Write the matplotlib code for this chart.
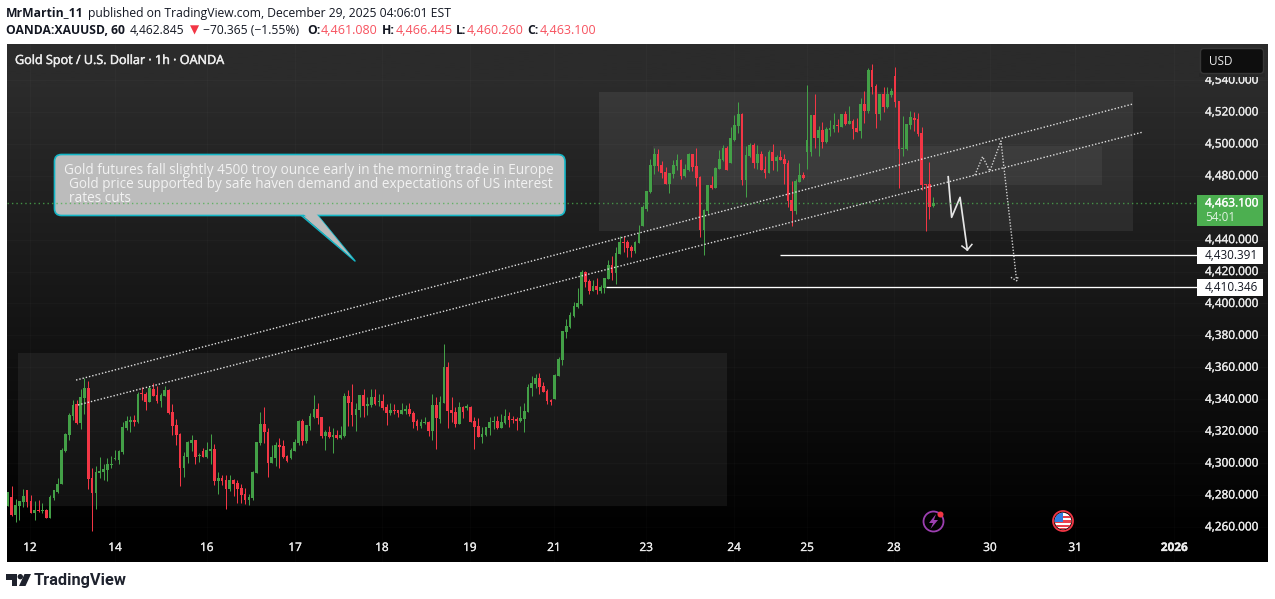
import numpy as np
import matplotlib
matplotlib.use("Agg")
import matplotlib.pyplot as plt
import matplotlib.patheffects as pe
from matplotlib.colors import LinearSegmentedColormap
from matplotlib.patches import Circle, FancyBboxPatch, Polygon, Rectangle
from matplotlib.transforms import Affine2D

opens = [
 4273.1,4278.7,4267.4,4273.1,4275.6,4283.1,4276.2,4268.7,4270.6,4269.7,
 4270.6,4265.6,4278.1,4281.6,4286.9,4307.5,4317.6,4329.5,4336.8,4325.1,
 4340.8,4347.0,4290.6,4281.2,4293.7,4294.4,4295.6,4298.8,4302.3,4301.9,
 4306.9,4322.0,4325.7,4327.0,4325.7,4343.9,4343.3,4338.2,4346.4,4342.6,
 4338.9,4342.0,4345.8,4332.0,4323.8,4318.2,4296.9,4303.8,4312.5,4314.4,
 4304.4,4307.5,4303.8,4307.5,4308.8,4288.7,4290.6,4289.4,4283.7,4289.4,
 4287.5,4284.3,4280.6,4276.8,4278.1,4293.7,4312.5,4324.5,4319.4,4300.0,
 4303.2,4311.3,4310.7,4304.4,4303.2,4307.5,4312.5,4326.3,4313.8,4323.2,
 4328.8,4333.9,4328.8,4316.9,4319.4,4316.3,4317.6,4315.7,4316.9,4342.0,
 4338.2,4330.1,4333.2,4342.6,4335.7,4336.4,4341.4,4338.2,4338.9,4335.1,
 4331.3,4333.2,4333.2,4330.7,4332.6,4333.9,4331.3,4326.3,4323.2,4325.1,
 4325.7,4320.1,4336.4,4327.6,4337.6,4360.2,4333.2,4332.0,4324.5,4335.1,
 4334.5,4335.1,4326.3,4323.2,4316.3,4317.6,4322.0,4325.7,4326.3,4322.0,
 4325.1,4329.5,4327.6,4327.6,4326.3,4327.6,4332.0,4347.0,4349.5,4353.3,
 4348.3,4345.1,4339.5,4340.1,4354.5,4364.6,4382.1,4385.2,4392.1,4397.8,
 4399.7,4419.7,4414.0,4407.8,4410.9,4407.8,4409.7,4415.3,4424.1,4419.1,
 4431.0,4438.5,4438.5,4435.4,4432.9,4437.9,4448.5,4459.2,4469.8,4486.1,
 4493.7,4486.8,4482.4,4474.9,4481.1,4486.1,4489.9,4479.9,4483.6,4493.7,
 4486.1,4479.2,4446.0,4457.9,4474.2,4472.3,4484.3,4489.9,4497.4,4488.0,
 4502.4,4511.2,4518.7,4477.3,4492.4,4499.3,4488.0,4493.6,4484.2,4481.7,
 4494.8,4489.2,4491.7,4490.5,4487.9,4464.8,4457.9,4476.0,4480.4,4494.8,
 4494.8,4518.0,4503.6,4508.6,4501.1,4508.6,4509.3,4511.8,4510.5,4518.7,
 4512.4,4514.3,4509.9,4508.0,4524.9,4520.5,4546.2,4536.2,4518.7,4531.2,
 4523.0,4530.6,4542.5,4526.8,4496.7,4496.7,4511.8,4516.2,4515.5,4506.8,
 4474.8,4474.8,4461.08]
highs = [
 4281.8,4285.6,4277.5,4276.2,4283.7,4283.1,4280.0,4276.2,4276.8,4275.0,
 4271.2,4280.0,4283.1,4290.6,4309.4,4318.6,4331.3,4339.5,4339.5,4346.4,
 4353.3,4351.4,4296.9,4298.1,4303.8,4299.4,4303.2,4304.4,4308.2,4308.2,
 4325.7,4329.5,4329.5,4330.1,4344.5,4347.6,4344.5,4348.3,4350.2,4348.3,
 4343.9,4348.3,4346.4,4337.0,4327.6,4318.8,4306.9,4313.8,4317.6,4314.4,
 4306.3,4309.4,4313.2,4318.2,4311.9,4294.4,4292.5,4292.5,4292.5,4290.0,
 4289.4,4286.9,4284.3,4280.6,4295.0,4313.2,4332.0,4335.1,4322.0,4311.3,
 4313.2,4315.7,4314.4,4305.0,4309.4,4315.1,4327.0,4327.6,4323.8,4331.3,
 4342.6,4337.6,4328.8,4320.7,4323.2,4322.0,4320.7,4323.2,4343.9,4345.8,
 4349.5,4337.6,4342.6,4346.4,4341.4,4346.4,4346.4,4343.3,4343.3,4337.0,
 4337.6,4337.0,4333.2,4337.6,4336.4,4337.6,4332.6,4327.6,4327.6,4328.8,
 4326.3,4343.3,4341.4,4342.0,4374.6,4363.3,4341.4,4335.1,4338.2,4335.7,
 4337.0,4335.7,4328.8,4328.2,4322.6,4322.6,4328.8,4329.5,4329.5,4330.7,
 4333.9,4332.0,4329.5,4328.8,4335.7,4337.6,4349.5,4354.5,4355.8,4356.4,
 4350.8,4346.4,4340.1,4355.8,4366.4,4382.7,4390.3,4394.6,4400.9,4409.7,
 4421.0,4420.3,4415.3,4414.7,4415.7,4411.6,4415.9,4427.2,4429.7,4435.4,
 4442.3,4442.3,4439.8,4436.6,4439.1,4449.2,4461.7,4470.5,4490.5,4497.4,
 4496.8,4489.3,4485.5,4481.8,4489.9,4493.7,4490.5,4487.4,4494.3,4493.7,
 4497.4,4479.9,4459.2,4474.2,4479.9,4485.5,4496.2,4499.3,4498.6,4510.5,
 4518.1,4526.2,4519.3,4498.6,4500.5,4500.5,4499.3,4495.5,4492.3,4496.1,
 4499.9,4493.0,4496.1,4493.6,4489.8,4476.7,4477.9,4487.9,4482.3,4536.8,
 4518.0,4531.2,4511.1,4513.6,4510.5,4514.9,4519.3,4515.5,4518.7,4520.5,
 4523.7,4515.5,4516.2,4528.7,4533.1,4547.5,4550.0,4537.5,4531.2,4535.6,
 4535.6,4534.9,4548.1,4526.8,4517.4,4512.4,4520.5,4519.9,4519.3,4510.5,
 4474.8,4488.6,4466.445]
lows = [
 4273.1,4266.8,4263.3,4264.3,4272.7,4272.7,4268.7,4264.3,4269.3,4268.5,
 4265.6,4265.6,4276.8,4281.2,4286.9,4306.9,4314.4,4327.0,4324.5,4321.3,
 4330.7,4283.7,4257.4,4271.2,4290.6,4289.4,4288.7,4296.9,4301.9,4299.4,
 4305.7,4320.7,4319.4,4323.2,4325.3,4339.5,4333.2,4338.2,4342.0,4337.6,
 4335.1,4342.0,4330.7,4317.6,4311.3,4285.6,4291.2,4300.0,4307.5,4299.4,
 4300.6,4303.8,4303.2,4299.4,4286.2,4280.6,4286.2,4271.2,4282.5,4279.3,
 4275.0,4275.0,4274.3,4273.7,4276.8,4293.7,4311.3,4312.5,4291.2,4300.0,
 4298.1,4296.9,4303.2,4300.6,4302.5,4307.5,4311.3,4311.3,4312.5,4320.7,
 4328.2,4324.5,4315.7,4308.2,4315.7,4306.3,4315.1,4315.1,4316.3,4323.2,
 4323.2,4320.1,4328.8,4328.8,4330.1,4335.1,4336.4,4335.7,4333.2,4323.8,
 4330.1,4330.7,4328.8,4330.7,4330.7,4329.5,4322.0,4320.7,4322.0,4324.5,
 4316.9,4314.4,4308.8,4325.1,4337.6,4322.0,4325.7,4322.6,4324.5,4328.2,
 4333.2,4325.7,4308.8,4316.3,4312.5,4316.9,4317.6,4321.3,4321.3,4322.0,
 4324.5,4322.6,4325.1,4320.7,4325.7,4319.4,4332.0,4342.0,4347.0,4343.3,
 4344.5,4337.0,4336.4,4340.1,4354.5,4361.4,4378.4,4384.6,4391.5,4397.2,
 4399.0,4410.3,4405.9,4407.8,4405.9,4406.5,4406.5,4415.3,4414.7,4412.2,
 4431.0,4432.2,4429.1,4429.1,4431.6,4437.9,4448.5,4457.9,4469.2,4481.1,
 4483.0,4478.6,4474.9,4469.2,4478.6,4483.6,4478.0,4479.2,4483.0,4483.0,
 4473.6,4441.6,4430.4,4456.1,4471.7,4472.3,4484.3,4489.2,4483.6,4488.0,
 4501.8,4506.8,4474.2,4466.7,4491.7,4484.8,4484.2,4483.6,4478.5,4481.7,
 4483.6,4482.9,4489.8,4474.8,4460.4,4448.5,4456.0,4476.0,4477.9,4484.2,
 4492.3,4497.3,4492.3,4497.3,4500.5,4504.9,4507.4,4507.4,4510.5,4511.8,
 4512.4,4503.0,4507.4,4503.6,4513.0,4519.3,4531.2,4509.9,4514.9,4519.9,
 4522.4,4529.3,4523.0,4472.3,4492.3,4496.1,4509.3,4508.0,4504.9,4471.0,
 4445.3,4452.9,4460.26]
closes = [
 4281.8,4267.4,4273.7,4276.2,4279.3,4275.6,4268.7,4270.6,4269.7,4270.6,
 4265.6,4278.7,4283.1,4286.9,4308.2,4318.2,4330.1,4336.4,4324.9,4341.4,
 4347.0,4290.0,4281.2,4294.4,4295.0,4296.3,4299.4,4299.4,4303.2,4307.5,
 4322.6,4326.3,4327.0,4325.7,4343.3,4343.3,4338.2,4347.0,4342.0,4338.9,
 4342.6,4345.8,4331.3,4323.2,4317.6,4296.9,4304.4,4313.2,4314.4,4303.8,
 4305.0,4303.8,4308.2,4308.8,4288.7,4290.6,4288.7,4283.7,4289.4,4286.9,
 4283.7,4280.0,4276.8,4278.7,4294.4,4313.2,4324.5,4319.4,4300.0,4303.8,
 4311.3,4310.0,4303.8,4301.3,4308.2,4313.2,4326.3,4313.8,4323.8,4329.5,
 4333.9,4328.2,4316.9,4319.4,4316.3,4317.6,4315.7,4317.6,4342.0,4337.6,
 4330.1,4333.9,4342.6,4335.7,4337.0,4341.4,4337.0,4338.9,4334.5,4331.3,
 4333.2,4332.6,4331.3,4333.2,4333.9,4330.7,4325.7,4323.2,4325.7,4325.7,
 4320.1,4336.4,4328.2,4338.2,4360.2,4332.6,4331.3,4324.5,4335.1,4332.0,
 4335.7,4325.7,4322.6,4316.3,4318.2,4322.6,4325.7,4326.3,4322.0,4325.7,
 4329.5,4327.0,4327.0,4326.3,4328.2,4332.6,4347.6,4350.2,4353.3,4347.6,
 4344.5,4338.9,4338.2,4355.2,4365.2,4382.7,4385.9,4392.8,4398.4,4400.3,
 4419.7,4413.4,4407.8,4410.9,4408.4,4410.3,4415.9,4424.1,4419.1,4431.6,
 4438.5,4437.9,4434.7,4432.9,4438.5,4443.7,4460.4,4470.5,4486.8,4493.7,
 4486.1,4481.8,4474.9,4481.8,4486.8,4489.9,4479.9,4484.3,4493.7,4485.5,
 4478.6,4446.0,4458.6,4474.2,4472.3,4484.9,4490.5,4497.4,4483.6,4503.6,
 4511.8,4518.7,4477.3,4493.0,4499.3,4488.0,4493.6,4483.6,4481.7,4494.8,
 4489.2,4491.7,4489.8,4487.3,4464.1,4457.9,4476.7,4480.4,4478.5,4502.4,
 4518.0,4503.6,4508.6,4501.1,4509.3,4509.9,4511.8,4511.1,4518.7,4512.4,
 4514.3,4509.3,4507.4,4524.9,4520.5,4546.2,4535.6,4518.7,4531.2,4523.0,
 4531.2,4533.1,4526.2,4496.7,4497.3,4512.4,4516.8,4514.9,4506.1,4474.2,
 4474.2,4460.4,4463.1]

date_bars = [5.75,28.0,52.0,75.1,97.8,120.8,142.8,166.9,189.9,209.0,231.7,256.8,279.1,305.0]
date_labels = ["12","14","16","17","18","19","21","23","24","25","28","30","31","2026"]
price_ticks = [4260,4280,4300,4320,4340,4360,4380,4400,4420,4440,4480,4500,4520,4540]

zone_bars = [(2.6,188.0),(154.6,294.2),(168.7,286.1)]
zone_prices = [(4273.0,4369.0),(4445.4,4532.5),(4474.2,4498.6)]
zone_alpha = [0.06,0.065,0.05]
channel_bars = [(17.8,294.2),(18.3,296.8)]
channel_prices = [(4352.0,4525.0),(4336.4,4507.4)]
level_prices = [4430.391,4410.346]
level_start = [201.9,156.4]
level_end = 311.0
last_price = 4463.10
path1_bars = [245.9,246.8,249.0,250.9]
path1_prices = [4479.4,4454.0,4466.5,4433.5]
head1_bars = [249.5,250.9,252.1]
head1_prices = [4436.0,4433.5,4437.0]
path2_bars = [252.9,254.9,256.8,259.7,263.8]
path2_prices = [4480.5,4492.0,4483.0,4501.8,4414.2]
head2_bars = [262.3,263.8,264.2]
head2_prices = [4416.4,4414.2,4416.8]

W, H, DPI = 1275, 599, 100
FONT = "Open Sans"
plt.rcParams["font.family"] = [FONT, "DejaVu Sans"]
GREEN, RED = "#43a047", "#f23645"
LIGHT = "#ececec"
BOLDER = [pe.withStroke(linewidth=0.35, foreground=LIGHT)]
MEDIUM = [pe.withStroke(linewidth=0.22, foreground=LIGHT)]

fig = plt.figure(figsize=(W/DPI, H/DPI), dpi=DPI, facecolor="white")
PX = Affine2D().scale(1, -1).translate(0, H)   # screenshot pixels
ax = fig.add_axes([7/W, (H-562)/H, 1261/W, 518/H])
ax.set_xlim(-0.26, 329.54)
ax.set_ylim(4238.0, 4562.6)
for s in ax.spines.values():
    s.set_visible(False)
ax.set_axisbelow(True)

cmap = LinearSegmentedColormap.from_list("bg", ["#000000", "#2b2b2b"])
grad = np.clip(np.linspace(1.09, -0.05, 256), 0, 1)[:, None]
ax.imshow(grad, cmap=cmap, vmin=0, vmax=1, extent=[0, 1, 0, 1], transform=ax.transAxes,
          aspect="auto", zorder=0)
ax.set_xlim(-0.26, 329.54)
ax.set_ylim(4238.0, 4562.6)

ax.set_yticks(price_ticks)
ax.set_yticklabels([f"{p:,.3f}" for p in price_ticks])
ax.yaxis.tick_right()
ax.set_xticks(date_bars)
ax.set_xticklabels(date_labels)
ax.tick_params(axis="y", length=0, pad=-63*72/DPI, labelsize=8.5, labelcolor=LIGHT)
ax.tick_params(axis="x", length=0, pad=-21*72/DPI, labelsize=8.5, labelcolor=LIGHT)
for lab in ax.get_yticklabels():
    lab.set_horizontalalignment("left")
    lab.set_verticalalignment("center")
    lab.set_path_effects(MEDIUM)
for lab in ax.get_xticklabels():
    lab.set_path_effects(MEDIUM)
ax.get_xticklabels()[-1].set_fontweight("bold")
ax.grid(True, color="white", alpha=0.018, lw=1)

# zones
for (x0, x1), (y0, y1), a in zip(zone_bars, zone_prices, zone_alpha):
    ax.add_patch(Rectangle((x0, y0), x1-x0, y1-y0, fc="white", ec="none", alpha=a, zorder=0.8))

# candles
o, h, l, c = map(np.array, (opens, highs, lows, closes))
x = np.arange(len(o))
cols = [GREEN if a >= b else RED for a, b in zip(c, o)]
ax.vlines(x, l, h, colors=cols, lw=0.72, zorder=2)
ax.bar(x, np.maximum(np.abs(c-o), 0.65), bottom=np.minimum(o, c), width=0.72, color=cols,
       linewidth=0, zorder=2.1)

# channel
for bx, py in zip(channel_bars, channel_prices):
    ax.plot(bx, py, color="#e0e0e0", lw=1.0, ls=(0, (1, 1.4)), zorder=3)

# levels
for p, st in zip(level_prices, level_start):
    ax.plot([st, level_end], [p, p], color="white", lw=0.95, zorder=3, solid_capstyle="butt")

# path drawings
ax.plot(path1_bars, path1_prices, color="#e6e6e6", lw=1.25, zorder=3)
ax.plot(head1_bars, head1_prices, color="#e6e6e6", lw=1.1, zorder=3)
ax.plot(path2_bars, path2_prices, color="#d0d0d0", lw=1.0, ls=(0, (1, 1.2)), zorder=3)
ax.plot(head2_bars, head2_prices, color="#d0d0d0", lw=1.0, ls=(0, (1, 1.2)), zorder=3)

# callout
fill, edge = "#bcbcbc", "#14b6c6"
ax.add_patch(Polygon([(302, 215), (355, 261), (318, 215)], closed=True, fc=fill, ec="none",
                     transform=PX, zorder=4))
ax.plot([302, 355, 318], [216, 261, 216], color=edge, lw=1.1, transform=PX, zorder=4)
ax.add_patch(FancyBboxPatch((54.5, 154.5), 510.5, 61, boxstyle="round,pad=0,rounding_size=7",
                            fc=fill, ec=edge, lw=1.2, transform=PX, zorder=4.1))
ax.add_patch(Polygon([(303.5, 214), (353, 259), (316.5, 214)], closed=True, fc=fill, ec="none",
                     transform=PX, zorder=4.2))

# last price line
ax.plot([-0.26, level_end], [last_price, last_price], color="#4caf50", lw=1.0,
        ls=(0, (1, 2.2)), alpha=0.8, zorder=4.3)


def T(px, py, s, **kw):
    kw.setdefault("va", "center")
    kw.setdefault("ha", "left")
    return fig.text(px, py, s, transform=PX, **kw)


for py, px, s in [(170, 64, "Gold futures fall slightly 4500 troy ounce early in the morning trade in Europe"),
                  (184, 69, "Gold price supported by safe haven demand and expectations of US interest"),
                  (199, 69, "rates cuts")]:
    ax.text(px, py, s, transform=PX, color="#f2f2f2", fontsize=9.8, va="center", ha="left", zorder=5)

# price tags
ax.add_patch(Rectangle((1197, 195), 66, 31, fc="#4caf50", ec="none", transform=PX, zorder=6))
ax.text(1205, 203, f"{last_price:,.3f}", color="white", fontsize=8.5, va="center", transform=PX, zorder=7,
        path_effects=[pe.withStroke(linewidth=0.22, foreground="white")])
ax.text(1205, 217.5, "54:01", color="#dff2e0", fontsize=8.5, va="center", transform=PX, zorder=7)
for p, (y0, y1) in zip(level_prices, [(247, 264), (279, 296)]):
    ax.add_patch(Rectangle((1197, y0), 66, y1-y0, fc="white", ec="none", transform=PX, zorder=6))
    ax.text(1205, (y0+y1)/2, f"{p:,.3f}", color="#131722", fontsize=8.5, va="center", transform=PX, zorder=7)

# USD box (with the band under it that cuts the top tick label)
ax.add_patch(Rectangle((1199, 73), 66, 4, fc="#272727", ec="none", transform=PX, zorder=5.9))
ax.add_patch(FancyBboxPatch((1200.5, 48.5), 63, 25, boxstyle="round,pad=0,rounding_size=3.5",
                            fc="#0e0e0e", ec="#363636", lw=1, transform=PX, zorder=6))
ax.text(1209, 61.5, "USD", color=LIGHT, fontsize=8.5, va="center", transform=PX, zorder=7)

# event icons
ax.add_patch(Circle((933.5, 521.5), 10, fc="none", ec="#9c3fb0", lw=1.3, transform=PX, zorder=6))
ax.add_patch(Polygon([(936, 514), (929, 523), (933, 523), (930.5, 529), (938, 520), (934, 520)],
                     closed=True, fc="#9c3fb0", ec="none", transform=PX, zorder=6))
ax.add_patch(Circle((940.5, 514.5), 3, fc=RED, ec="none", transform=PX, zorder=7))

clip = Circle((1063, 521), 8.3, transform=PX)
ax.add_patch(Circle((1063, 521), 8.3, fc="white", ec="none", transform=PX, zorder=6))
for y0, hh in [(516, 2), (520, 2.5), (524.5, 2.5), (527.5, 3)]:
    r = Rectangle((1053, y0), 20, hh, fc="#e8404c", ec="none", transform=PX, zorder=6.1)
    ax.add_patch(r); r.set_clip_path(clip)
r = Rectangle((1053, 511), 10, 10.5, fc="#2f7de1", ec="none", transform=PX, zorder=6.2)
ax.add_patch(r); r.set_clip_path(clip)
ax.add_patch(Circle((1063, 521), 10, fc="none", ec=RED, lw=1.3, transform=PX, zorder=6.3))

# title
T(15, 60.5, "Gold Spot / U.S. Dollar · 1h · OANDA", color=LIGHT, fontsize=9.08, path_effects=BOLDER)

# header
DARK, VAL = "#131722", "#f7525f"
HFS = 8.78
T(6, 13, "MrMartin_11", color=DARK, fontsize=HFS, fontweight="bold")
T(88, 13, "published on TradingView.com, December 29, 2025 04:06:01 EST", color=DARK, fontsize=HFS)
T(6, 30, "OANDA:XAUUSD, 60", color=DARK, fontsize=HFS, fontweight="bold")
T(130, 30, "4,462.845", color=DARK, fontsize=HFS)
T(190, 30, "▼", color=RED, fontsize=8.6, family="DejaVu Sans")
T(203, 30, "−70.365 (−1.55%)", color=DARK, fontsize=HFS)
for px, lab, pv, val in [(307, "O:", 321, "4,461.080"), (382, "H:", 395.5, "4,466.445"),
                         (456, "L:", 467, "4,460.260"), (527, "C:", 540, "4,463.100")]:
    T(px, 30, lab, color=DARK, fontsize=HFS, fontweight="bold")
    T(pv, 30, val, color=VAL, fontsize=HFS+0.2)

# logo
LOGO = "#1e222d"
fig.add_artist(Polygon([(6, 574), (17, 574), (17, 586), (11.5, 586), (11.5, 579.5), (6, 579.5)],
                       closed=True, fc=LOGO, ec="none", transform=PX))
fig.add_artist(Circle((20.3, 576.7), 2.7, fc=LOGO, ec="none", transform=PX))
fig.add_artist(Polygon([(24.5, 574), (31, 574), (25.5, 586), (19, 586)], closed=True, fc=LOGO, ec="none", transform=PX))
T(33.5, 580.5, "TradingView", color=LOGO, fontsize=11.8, fontweight="bold", family="Roboto")

fig.savefig("out.png", dpi=DPI, facecolor="white")
